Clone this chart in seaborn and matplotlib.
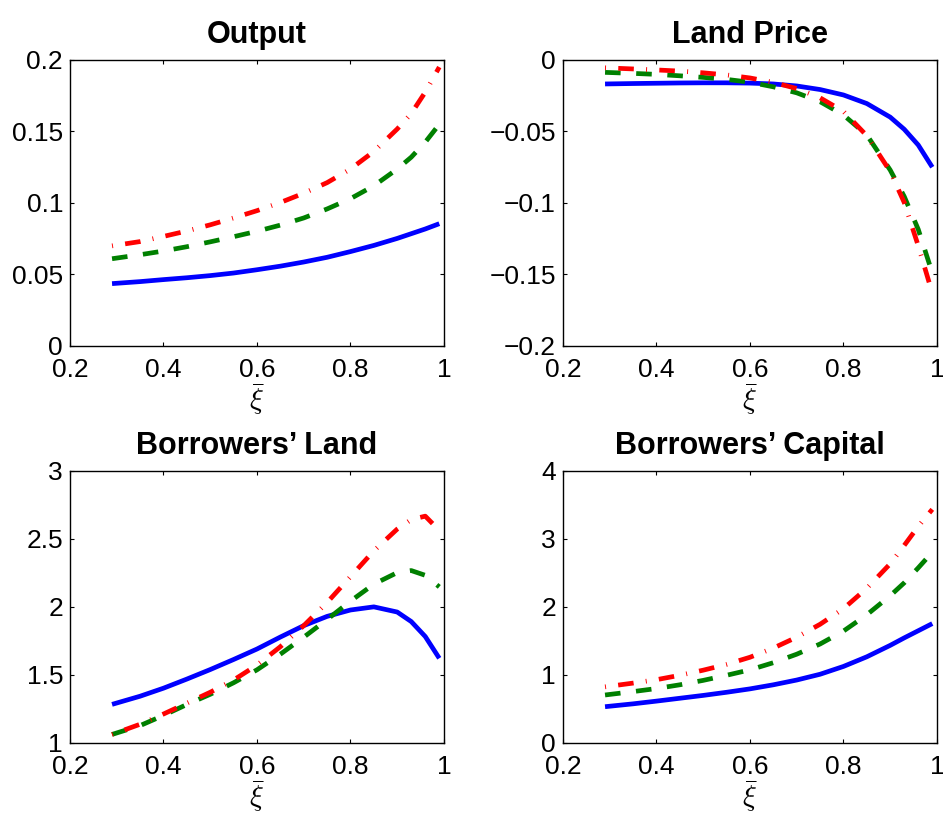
import numpy as np
import pandas as pd
import matplotlib
matplotlib.use("Agg")
import matplotlib.pyplot as plt
import seaborn as sns

# Common grid of xi-bar values shared by all four panels
xi = [0.29, 0.35, 0.40, 0.45, 0.50, 0.55, 0.60, 0.65, 0.70, 0.75, 0.80, 0.85, 0.90, 0.93, 0.96, 0.99]

# Output
output_solid = [0.0436, 0.0450, 0.0464, 0.0477, 0.0492, 0.0510, 0.0533, 0.0558, 0.0587, 0.0620,
                0.0660, 0.0703, 0.0752, 0.0785, 0.0818, 0.0855]
output_dash = [0.0610, 0.0638, 0.0664, 0.0694, 0.0728, 0.0764, 0.0802, 0.0845, 0.0895, 0.0958,
               0.1030, 0.1120, 0.1237, 0.1320, 0.1425, 0.1550]
output_dashdot = [0.0700, 0.0730, 0.0766, 0.0804, 0.0847, 0.0895, 0.0946, 0.1003, 0.1068, 0.1142,
                  0.1237, 0.1360, 0.1517, 0.1625, 0.1775, 0.1950]

# Land price
landprice_solid = [-0.0168, -0.0165, -0.0163, -0.0161, -0.0160, -0.0160, -0.0162, -0.0168, -0.0182,
                   -0.0207, -0.0245, -0.0305, -0.0400, -0.0485, -0.0595, -0.0750]
landprice_dash = [-0.0087, -0.0094, -0.0101, -0.0111, -0.0122, -0.0136, -0.0156, -0.0188, -0.0230,
                  -0.0292, -0.0385, -0.0525, -0.0770, -0.0955, -0.1185, -0.1490]
landprice_dashdot = [-0.0055, -0.0063, -0.0070, -0.0078, -0.0090, -0.0105, -0.0126, -0.0157, -0.0200,
                     -0.0265, -0.0360, -0.0530, -0.0780, -0.0997, -0.1300, -0.1630]

# Borrowers' land
land_solid = [1.281, 1.341, 1.400, 1.467, 1.537, 1.611, 1.688, 1.776, 1.860, 1.928,
              1.975, 1.998, 1.960, 1.890, 1.780, 1.620]
land_dash = [1.060, 1.125, 1.200, 1.280, 1.355, 1.440, 1.535, 1.650, 1.775, 1.905,
             2.040, 2.165, 2.250, 2.265, 2.230, 2.145]
land_dashdot = [1.060, 1.135, 1.210, 1.290, 1.370, 1.460, 1.570, 1.705, 1.860, 2.030,
                2.220, 2.410, 2.570, 2.640, 2.665, 2.560]

# Borrowers' capital
capital_solid = [0.528, 0.570, 0.610, 0.652, 0.694, 0.740, 0.790, 0.850, 0.920, 1.005,
                 1.120, 1.262, 1.430, 1.540, 1.645, 1.750]
capital_dash = [0.700, 0.750, 0.795, 0.850, 0.915, 0.990, 1.070, 1.175, 1.300, 1.450,
                1.640, 1.880, 2.160, 2.350, 2.570, 2.800]
capital_dashdot = [0.820, 0.875, 0.925, 0.990, 1.065, 1.150, 1.255, 1.390, 1.550, 1.740,
                   1.970, 2.270, 2.630, 2.900, 3.180, 3.430]

titles = ["Output", "Land Price", "Borrowers\u2019 Land", "Borrowers\u2019 Capital"]
y_limits = [(0, 0.2), (-0.2, 0), (1, 3), (0, 4)]
y_ticks = [[0, 0.05, 0.1, 0.15, 0.2],
           [-0.2, -0.15, -0.1, -0.05, 0],
           [1, 1.5, 2, 2.5, 3],
           [0, 1, 2, 3, 4]]
x_ticks = [0.2, 0.4, 0.6, 0.8, 1]

panels = [
    (output_solid, output_dash, output_dashdot),
    (landprice_solid, landprice_dash, landprice_dashdot),
    (land_solid, land_dash, land_dashdot),
    (capital_solid, capital_dash, capital_dashdot),
]

sns.set_theme(style="white")
plt.rcParams["font.family"] = ["Liberation Sans", "DejaVu Sans"]
plt.rcParams["mathtext.fontset"] = "cm"
plt.rcParams["text.color"] = "black"

palette = {"a": "#0000ff", "b": "#008000", "c": "#ff0000"}
dashes = {"a": "", "b": (3.3, 3.3), "c": (0.2, 2.6, 3.3, 2.6)}

fig = plt.figure(figsize=(9.43, 8.21), dpi=100)
# [left, bottom, width, height] of each panel in figure fractions
boxes = [
    [0.0742, 0.5786, 0.3966, 0.3484],
    [0.5970, 0.5786, 0.3966, 0.3484],
    [0.0742, 0.0955, 0.3966, 0.3313],
    [0.5970, 0.0955, 0.3966, 0.3313],
]


def fmt(v):
    return f"{v:g}".replace("-", "\u2212")


for i, (s1, s2, s3) in enumerate(panels):
    ax = fig.add_axes(boxes[i])
    n = len(xi)
    df = pd.DataFrame({
        "xi": list(xi) * 3,
        "value": list(s1) + list(s2) + list(s3),
        "case": ["a"] * n + ["b"] * n + ["c"] * n,
    })
    sns.lineplot(data=df, x="xi", y="value", hue="case", style="case",
                 palette=palette, dashes=dashes, linewidth=3.4,
                 legend=False, ax=ax, sort=False)
    for ln in ax.get_lines():
        ln.set_dash_capstyle("butt")
        ln.set_solid_capstyle("butt")
    ax.set_xlim(0.2, 1)
    ax.set_ylim(*y_limits[i])
    ax.set_xticks(x_ticks)
    ax.set_xticklabels([fmt(t) for t in x_ticks])
    ax.set_yticks(y_ticks[i])
    ax.set_yticklabels([fmt(t) for t in y_ticks[i]])
    ax.tick_params(axis="x", pad=9)
    ax.tick_params(axis="y", pad=5)
    ax.tick_params(direction="in", length=3, width=0.8, labelsize=19,
                   top=True, right=True, bottom=True, left=True,
                   colors="black", labelcolor="black")
    for sp in ax.spines.values():
        sp.set_visible(True)
        sp.set_color("black")
        sp.set_linewidth(1.0)
    ax.set_xlabel(r"$\bar{\xi}$", fontsize=21, labelpad=0, color="black")
    ax.set_ylabel("")
    ax.set_title(titles[i], fontsize=22, fontweight="bold", pad=12, color="black")

fig.savefig("out.png", dpi=100)
